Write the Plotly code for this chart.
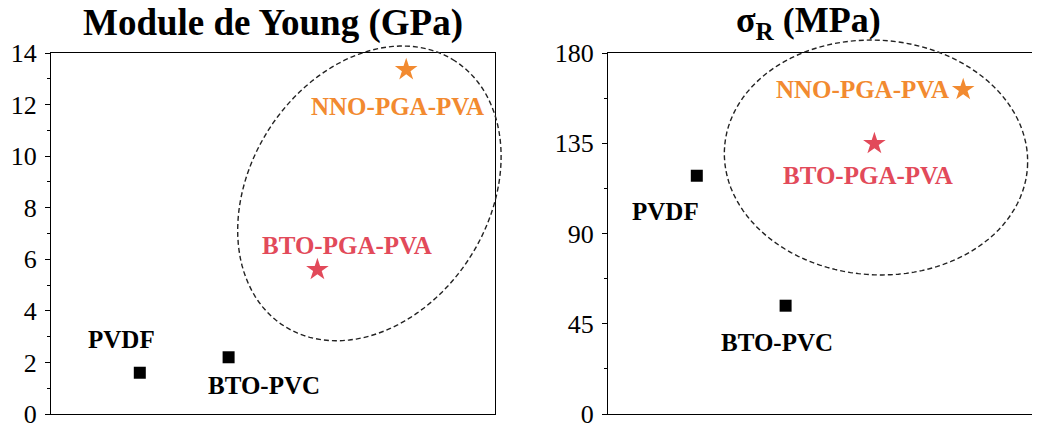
## Import numpy, plotly
import numpy as np
import plotly.graph_objects as go

## Data
materials = ["PVDF", "BTO-PVC", "BTO-PGA-PVA", "NNO-PGA-PVA"]
positions = [1, 2, 3, 4]
young_gpa = [1.6, 2.2, 5.6, 13.35]
sigma_mpa = [118.8, 54.0, 134.8, 161.7]
symbols = ["square", "square", "star", "star"]
colors = ["black", "black", "#E24A5A", "#F28A30"]
young_ticks = [0, 2, 4, 6, 8, 10, 12, 14]
sigma_ticks = [0, 45, 90, 135, 180]

## Page geometry (pixels); the page body adds an 8px margin at top and left,
## so the figure is shifted by it and all positions below are page positions
OFF = 8
W, H = 1040 - OFF, 423 - OFF
PLOT_L, PLOT_T, PLOT_B = 51, 53, 414
L, T = PLOT_L - OFF, PLOT_T - OFF
B = (H + OFF) - PLOT_B
R = 0
PW, PH = W - L - R, PLOT_B - PLOT_T
PAGE_RIGHT = W + OFF

SERIF = "Liberation Serif"


def to_paper(px, py):
    return (px - PLOT_L) / PW, (PLOT_B - py) / PH


def ellipse_path(cx, cy, a, b, angle_deg):
    ## Dashed ellipse drawn in paper coordinates so it is not clipped
    t = np.linspace(0, 2 * np.pi, 120)
    th = np.radians(angle_deg)
    ex, ey = a * np.cos(t), b * np.sin(t)
    px = cx + ex * np.cos(th) - ey * np.sin(th)
    py = cy - (ex * np.sin(th) + ey * np.cos(th))
    pts = [to_paper(x, y) for x, y in zip(px, py)]
    return "M " + " L ".join(f"{x:.5f},{y:.5f}" for x, y in pts) + " Z"


fig = go.Figure()

marker = dict(symbol=symbols, color=colors, size=[12, 12, 17, 17], opacity=1,
              line=dict(width=0))

## Left panel: Young's modulus
fig.add_trace(go.Scatter(x=positions, y=young_gpa, mode="markers", marker=marker,
                         cliponaxis=False, xaxis="x", yaxis="y", showlegend=False))
## Right panel: tensile strength
fig.add_trace(go.Scatter(x=positions, y=sigma_mpa, mode="markers", marker=marker,
                         cliponaxis=False, xaxis="x2", yaxis="y2", showlegend=False))

## Label offsets in pixels (left panel, right panel)
left_shift = [(-18, 33), (35, -28), (30, 24), (-9, -37)]
right_shift = [(-31, -36), (-9, -37), (-6, -32), (-101, 0)]

annotations = []
for i, name in enumerate(materials):
    for xr, yr, vals, sh in [("x", "y", young_gpa, left_shift), ("x2", "y2", sigma_mpa, right_shift)]:
        annotations.append(dict(x=positions[i], y=vals[i], xref=xr, yref=yr, text=name,
                                showarrow=False, xshift=sh[i][0], yshift=sh[i][1],
                                xanchor="center", yanchor="middle",
                                font=dict(family=SERIF, size=25, color=colors[i], weight="bold")))

## Panel titles
tx1, ty = to_paper(273, 23)
tx2, _ = to_paper(808, 23)
annotations.append(dict(x=tx1, y=ty, xref="paper", yref="paper", showarrow=False,
                        xanchor="center", yanchor="middle",
                        text="Module de Young (GPa)",
                        font=dict(family=SERIF, size=37, color="black", weight="bold")))
annotations.append(dict(x=tx2, y=ty, xref="paper", yref="paper", showarrow=False,
                        xanchor="center", yanchor="middle",
                        text="σ<sub>R</sub> (MPa)",
                        font=dict(family=SERIF, size=36, color="black", weight="bold")))

shapes = [
    dict(type="path", xref="paper", yref="paper", path=ellipse_path(369.4, 193.4, 157.7, 119.2, 57.1),
         line=dict(color="#222", width=1.4, dash="5px,3px")),
    dict(type="path", xref="paper", yref="paper", path=ellipse_path(876, 157.5, 151.8, 117.3, -3.7),
         line=dict(color="#222", width=1.4, dash="5px,3px")),
]

x1_end = to_paper(495, 0)[0]
x2_start = to_paper(608, 0)[0]

yaxis_common = dict(showline=True, linecolor="black", linewidth=1, ticks="outside",
                    ticklen=5, tickcolor="black", showgrid=False, zeroline=False,
                    ticklabeloverflow="allow", automargin=False, ticklabelstandoff=3,
                    tickfont=dict(family=SERIF, size=26, color="black"))
xaxis_common = dict(showline=True, linecolor="black", linewidth=1, mirror=True, automargin=False,
                    showticklabels=False, ticks="", showgrid=False, zeroline=False)

fig.update_layout(
    width=W, height=H,
    margin=dict(l=L, r=R, t=T, b=B),
    paper_bgcolor="white", plot_bgcolor="white",
    xaxis=dict(domain=[0, x1_end], range=[0, 5], **xaxis_common),
    xaxis2=dict(domain=[x2_start, 1], range=[0, (PAGE_RIGHT - 608) / 88.8], anchor="y2", **xaxis_common),
    yaxis=dict(domain=[0, 1], range=[0, 14], tickvals=young_ticks, mirror=True,
               minor=dict(dtick=1, ticks="outside", ticklen=3, tickcolor="black"),
               anchor="x", **yaxis_common),
    yaxis2=dict(domain=[0, 1], range=[0, 180], tickvals=sigma_ticks, mirror=False,
                minor=dict(dtick=22.5, tick0=0, ticks="outside", ticklen=3, tickcolor="black"),
                anchor="x2", **yaxis_common),
    annotations=annotations,
    shapes=shapes,
)

fig.write_html("out.html")
